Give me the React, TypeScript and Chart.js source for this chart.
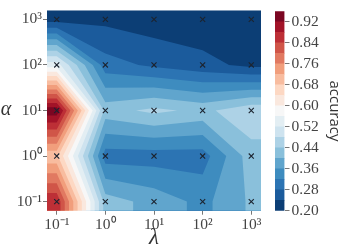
import React, { useEffect, useRef } from "react";
import { Chart, registerables } from "chart.js";

Chart.register(...registerables);

const lambdaTicks = [0.1, 1, 10, 100, 1000];
const alphaTicks = [0.1, 1, 10, 100, 1000];
const superscripts: Record<number, string> = {
  0.1: "10\u207B\u00B9",
  1: "10\u2070",
  10: "10\u00B9",
  100: "10\u00B2",
  1000: "10\u00B3",
};

// accuracy per alpha row, columns follow lambdaTicks
const accuracyAlpha1e3 = [0.222, 0.23, 0.218, 0.213, 0.205];
const accuracyAlpha1e2 = [0.54, 0.297, 0.272, 0.253, 0.229];
const accuracyAlpha1e1 = [0.948, 0.423, 0.45, 0.429, 0.47];
const accuracyAlpha1e0 = [0.69, 0.3, 0.3, 0.301, 0.4225];
const accuracyAlpha1em1 = [0.875, 0.42, 0.385, 0.348, 0.407];

const accuracyRows = [
  accuracyAlpha1em1,
  accuracyAlpha1e0,
  accuracyAlpha1e1,
  accuracyAlpha1e2,
  accuracyAlpha1e3,
];

const levels = [
  0.2, 0.24, 0.28, 0.32, 0.36, 0.4, 0.44, 0.48, 0.52, 0.56, 0.6, 0.64, 0.68, 0.72, 0.76, 0.8, 0.84, 0.88, 0.92, 0.96,
];
const colorbarTicks = [0.2, 0.28, 0.36, 0.44, 0.52, 0.6, 0.68, 0.76, 0.84, 0.92];

const rdBuAnchors = [
  [5, 48, 97],
  [33, 102, 172],
  [67, 147, 195],
  [146, 197, 222],
  [209, 229, 240],
  [247, 247, 247],
  [253, 219, 199],
  [244, 165, 130],
  [214, 96, 77],
  [178, 24, 43],
  [103, 0, 31],
];

function bandColor(i: number) {
  const t = ((i + 0.5) / (levels.length - 1)) * 10;
  const k = Math.min(9, Math.floor(t));
  const f = t - k;
  const c = rdBuAnchors[k].map((a, j) => Math.round(a + (rdBuAnchors[k + 1][j] - a) * f));
  return `rgb(${c[0]},${c[1]},${c[2]})`;
}

const PAD = 0.2;
const xMinLog = Math.log10(lambdaTicks[0]) - PAD;
const xMaxLog = Math.log10(lambdaTicks[lambdaTicks.length - 1]) + PAD;
const yMinLog = Math.log10(alphaTicks[0]) - PAD;
const yMaxLog = Math.log10(alphaTicks[alphaTicks.length - 1]) + PAD;

const gridX = [xMinLog, ...lambdaTicks.map(Math.log10), xMaxLog];
const gridY = [yMinLog, ...alphaTicks.map(Math.log10), yMaxLog];
const paddedRows = [accuracyRows[0], ...accuracyRows, accuracyRows[accuracyRows.length - 1]].map((r) => [
  r[0],
  ...r,
  r[r.length - 1],
]);

type P = [number, number];

function cellPolygons(corners: { x: number; y: number; v: number }[], level: number): P[][] {
  const above = corners.map((c) => c.v >= level);
  const count = above.filter(Boolean).length;
  if (count === 0) return [];
  const crossing = (a: (typeof corners)[0], b: (typeof corners)[0]): P => {
    const f = (level - a.v) / (b.v - a.v);
    return [a.x + (b.x - a.x) * f, a.y + (b.y - a.y) * f];
  };
  const walk = (idx: number[]): P[] => {
    const out: P[] = [];
    idx.forEach((i) => {
      const a = corners[i];
      const b = corners[(i + 1) % 4];
      if (above[i]) out.push([a.x, a.y]);
      if (above[i] !== above[(i + 1) % 4]) out.push(crossing(a, b));
    });
    return out;
  };
  const saddle = count === 2 && above[0] === above[2];
  const mean = corners.reduce((s, c) => s + c.v, 0) / 4;
  if (saddle && mean < level) {
    const polys: P[][] = [];
    [0, 1, 2, 3].forEach((i) => {
      if (above[i]) {
        const prev = (i + 3) % 4;
        const next = (i + 1) % 4;
        polys.push([crossing(corners[prev], corners[i]), [corners[i].x, corners[i].y], crossing(corners[i], corners[next])]);
      }
    });
    return polys;
  }
  return [walk([0, 1, 2, 3])];
}

const contourPlugin = {
  id: "contourBands",
  beforeDatasetsDraw(chart: any) {
    const { ctx, chartArea: a, scales } = chart;
    const px = (v: number) => scales.x.getPixelForValue(Math.pow(10, v));
    const py = (v: number) => scales.y.getPixelForValue(Math.pow(10, v));
    ctx.save();
    ctx.beginPath();
    ctx.rect(a.left, a.top, a.right - a.left, a.bottom - a.top);
    ctx.clip();
    ctx.fillStyle = bandColor(0);
    ctx.fillRect(a.left, a.top, a.right - a.left, a.bottom - a.top);
    for (let l = 1; l < levels.length - 1; l++) {
      ctx.beginPath();
      for (let r = 0; r < gridY.length - 1; r++) {
        for (let c = 0; c < gridX.length - 1; c++) {
          const corners = [
            { x: gridX[c], y: gridY[r], v: paddedRows[r][c] },
            { x: gridX[c + 1], y: gridY[r], v: paddedRows[r][c + 1] },
            { x: gridX[c + 1], y: gridY[r + 1], v: paddedRows[r + 1][c + 1] },
            { x: gridX[c], y: gridY[r + 1], v: paddedRows[r + 1][c] },
          ];
          cellPolygons(corners, levels[l]).forEach((poly) => {
            poly.forEach(([x, y], i) => {
              if (i === 0) ctx.moveTo(px(x), py(y));
              else ctx.lineTo(px(x), py(y));
            });
            ctx.closePath();
          });
        }
      }
      ctx.fillStyle = bandColor(l);
      ctx.fill();
    }
    ctx.restore();
  },
};

const alphaLabelPlugin = {
  id: "alphaLabel",
  afterDraw(chart: any) {
    const { ctx, scales } = chart;
    ctx.save();
    ctx.font = "italic 20px 'Liberation Serif'";
    ctx.fillStyle = "#333";
    ctx.textAlign = "center";
    ctx.textBaseline = "middle";
    ctx.fillText("\u03B1", 6, scales.y.getPixelForValue(10) - 1);
    ctx.restore();
  },
};

const TEXT = "#444";
const SERIF = "'Liberation Serif'";

export default function App() {
  const mainRef = useRef<HTMLCanvasElement>(null);
  const barRef = useRef<HTMLCanvasElement>(null);

  useEffect(() => {
    const markers = alphaTicks.flatMap((y) => lambdaTicks.map((x) => ({ x, y })));
    const main = new Chart(mainRef.current!, {
      type: "scatter",
      data: {
        datasets: [
          {
            label: "accuracy samples",
            data: markers,
            pointStyle: "crossRot",
            pointRadius: 3.6,
            pointBorderWidth: 1.1,
            pointBorderColor: "#1c2430",
            pointBackgroundColor: "#1c2430",
          },
        ],
      },
      options: {
        responsive: false,
        animation: false,
        events: [],
        layout: { padding: { top: 10.3, right: 89, left: 0, bottom: 0 } },
        plugins: { legend: { display: false }, tooltip: { enabled: false } },
        scales: {
          x: {
            type: "logarithmic",
            min: Math.pow(10, xMinLog),
            max: Math.pow(10, xMaxLog),
            afterBuildTicks: (s: any) => {
              s.ticks = lambdaTicks.map((value) => ({ value }));
            },
            afterFit: (s: any) => {
              s.height = 38.3;
            },
            border: { display: false },
            grid: { display: true, drawOnChartArea: false, drawTicks: true, tickLength: 4, color: "#777", tickWidth: 1 },
            ticks: {
              autoSkip: false,
              maxRotation: 0,
              padding: 1,
              color: TEXT,
              font: { family: SERIF, size: 15.5 },
              callback: (v: any) => superscripts[Number(v)] ?? "",
            },
            title: {
              display: true,
              text: "\u03BB",
              color: "#333",
              font: { family: SERIF, size: 23, style: "italic" },
              padding: { top: 0, bottom: -3 },
            },
          },
          y: {
            type: "logarithmic",
            min: Math.pow(10, yMinLog),
            max: Math.pow(10, yMaxLog),
            afterBuildTicks: (s: any) => {
              s.ticks = alphaTicks.map((value) => ({ value }));
            },
            afterFit: (s: any) => {
              s.width = 47;
            },
            border: { display: false },
            grid: { display: true, drawOnChartArea: false, drawTicks: true, tickLength: 4, color: "#777", tickWidth: 1 },
            ticks: {
              autoSkip: false,
              padding: 1,
              color: TEXT,
              font: { family: SERIF, size: 15.5 },
              callback: (v: any) => superscripts[Number(v)] ?? "",
            },
          },
        },
      },
      plugins: [contourPlugin, alphaLabelPlugin],
    } as any);

    const bar = new Chart(barRef.current!, {
      type: "bar",
      data: {
        labels: ["accuracy"],
        datasets: levels.slice(0, -1).map((lo, i) => ({
          label: `${lo.toFixed(2)}-${levels[i + 1].toFixed(2)}`,
          data: [[lo, levels[i + 1]]],
          backgroundColor: bandColor(i),
          borderWidth: 0,
          barPercentage: 1,
          categoryPercentage: 1,
          grouped: false,
        })),
      },
      options: {
        responsive: false,
        animation: false,
        events: [],
        layout: { padding: { top: 10.3, left: 13, right: 0, bottom: 38.3 } },
        plugins: { legend: { display: false }, tooltip: { enabled: false } },
        scales: {
          x: { display: false },
          y: {
            position: "right",
            min: levels[0],
            max: levels[levels.length - 1],
            afterBuildTicks: (s: any) => {
              s.ticks = colorbarTicks.map((value) => ({ value }));
            },
            afterFit: (s: any) => {
              s.width = 65.5;
            },
            border: { display: false },
            grid: { display: true, drawOnChartArea: false, drawTicks: true, tickLength: 5, color: "#777", tickWidth: 1 },
            ticks: {
              autoSkip: false,
              padding: 2,
              color: TEXT,
              font: { family: SERIF, size: 15.5 },
              callback: (v: any) => Number(v).toFixed(2),
            },
            title: {
              display: true,
              text: "accuracy",
              color: "#333",
              font: { family: "'Open Sans'", size: 15 },
              padding: { top: 7, bottom: 0 },
            },
          },
        },
      },
    } as any);

    return () => {
      main.destroy();
      bar.destroy();
    };
  }, []);

  return (
    <div style={{ position: "fixed", left: 0, top: 0, width: 350, height: 249, background: "#fff", overflow: "hidden" }}>
      <canvas ref={mainRef} width={350} height={249} style={{ position: "absolute", left: 0, top: 0 }} />
      <canvas ref={barRef} width={88} height={249} style={{ position: "absolute", left: 262, top: 0 }} />
    </div>
  );
}
